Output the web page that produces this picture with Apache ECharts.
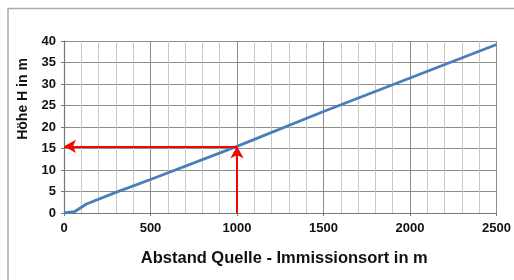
<!DOCTYPE html>
<html lang="de">
<head>
<meta charset="UTF-8">
<title>Höhe H</title>
<script src="https://cdn.jsdelivr.net/npm/echarts@6/dist/echarts.min.js"></script>
<style>
  html, body { margin: 0; padding: 0; background: #fff; }
</style>
</head>
<body>
<div id="main" style="width:514px;height:280px;"></div>
<script>
// Abstand (m) und Höhe (m)
const abstand = [0, 60, 130, 300, 500, 1000, 1500, 2000, 2500];
const hoehe   = [0, 0.3, 2.1, 4.8, 7.8, 15.5, 23.6, 31.4, 39.2];
// Ablesebeispiel (rote Pfeile)
const ablesung = [1000, 15.5];
const xTicks = [0, 500, 1000, 1500, 2000, 2500];

const chart = echarts.init(document.getElementById('main'));
const font = 'Liberation Sans, Arial, sans-serif';

const option = {
  animation: false,
  backgroundColor: '#fff',
  grid: { left: 64, right: 17, top: 41, bottom: 67 },
  graphic: [
    { type: 'polyline', shape: { points: [[8, 282], [8, 8.5], [516, 8.5]] },
      style: { stroke: '#aaa', lineWidth: 1.5, fill: null } }
  ],
  xAxis: {
    type: 'value', min: xTicks[0], max: xTicks[xTicks.length - 1], interval: 500,
    name: 'Abstand Quelle - Immissionsort in m',
    nameLocation: 'middle', nameGap: 37,
    nameTextStyle: { fontFamily: font, fontWeight: 'bold', fontSize: 16.5, color: '#111', padding: [0, 0, 0, 8] },
    axisLine: { lineStyle: { color: '#777', width: 1.2 } },
    axisTick: { show: true, length: 3, lineStyle: { color: '#777' } },
    axisLabel: { fontFamily: font, fontWeight: 'bold', fontSize: 13, color: '#111', margin: 9,
      formatter: v => String(v) },
    splitLine: { lineStyle: { color: '#8c8c8c', width: 1 } },
    minorTick: { show: false, splitNumber: 5 },
    minorSplitLine: { show: true, lineStyle: { color: '#c8c8c8', width: 1 } }
  },
  yAxis: {
    type: 'value', min: 0, max: 40, interval: 5,
    name: 'Höhe H in m',
    nameLocation: 'middle', nameGap: 33, nameRotate: 90,
    nameTextStyle: { fontFamily: font, fontWeight: 'bold', fontSize: 14, color: '#111', padding: [0, 0, 0, 56] },
    axisLine: { show: true, lineStyle: { color: '#777', width: 1.2 } },
    axisTick: { show: true, length: 3, lineStyle: { color: '#777' } },
    axisLabel: { fontFamily: font, fontWeight: 'bold', fontSize: 13, color: '#111', margin: 8 },
    splitLine: { lineStyle: { color: '#8c8c8c', width: 1 } }
  },
  series: [
    {
      type: 'line',
      data: abstand.map((x, i) => [x, hoehe[i]]),
      showSymbol: false,
      lineStyle: { color: '#4a7ebb', width: 2.8 },
      z: 3,
      markLine: {
        silent: true,
        symbol: ['none', 'arrow'],
        symbolSize: [10, 12],
        label: { show: false },
        lineStyle: { color: '#ff0000', width: 2, type: 'solid' },
        data: [
          [{ coord: [ablesung[0], 0] }, { coord: [ablesung[0], ablesung[1]] }],
          [{ coord: [ablesung[0], ablesung[1]] }, { coord: [0, ablesung[1]] }]
        ]
      }
    }
  ]
};
chart.setOption(option);
</script>
</body>
</html>
